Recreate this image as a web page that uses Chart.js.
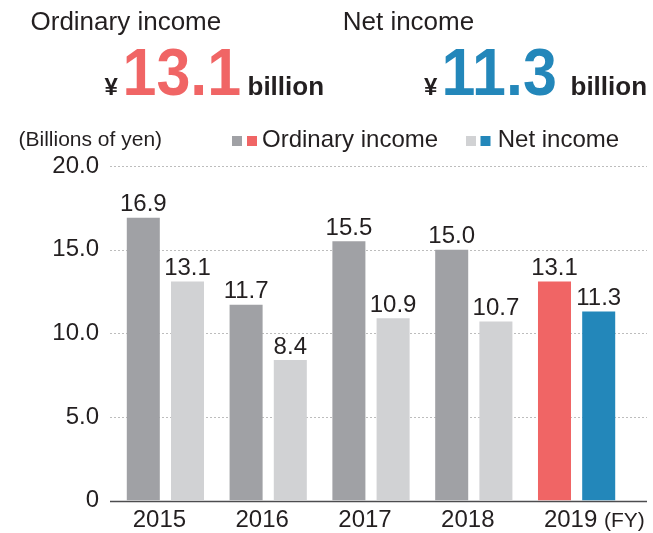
<!DOCTYPE html>
<html>
<head>
<meta charset="utf-8">
<script src="https://cdn.jsdelivr.net/npm/chart.js@4.4.1/dist/chart.umd.min.js"></script>
<style>
  body { margin: 0; background: #fff; }
  #wrap { width: 653px; height: 533px; }
</style>
</head>
<body>
<div id="wrap"><canvas id="incomeChart" width="653" height="533"></canvas></div>
<script>
// values (billions of yen)
const years = ['2015', '2016', '2017', '2018', '2019'];
const ordinaryIncome = [16.9, 11.7, 15.5, 15.0, 13.1];
const netIncome = [13.1, 8.4, 10.9, 10.7, 11.3];
const yTicks = [0, 5, 10, 15, 20];

const GREY = '#a0a1a5', LIGHT = '#d1d2d4', RED = '#f06565', BLUE = '#2387ba', INK = '#231f20';
const FONT = '"Liberation Sans", Arial, Helvetica, sans-serif';

// last year is highlighted
const ordinaryColors = years.map((y, i) => i === years.length - 1 ? RED : GREY);
const netColors = years.map((y, i) => i === years.length - 1 ? BLUE : LIGHT);

function txt(ctx, s, x, y, size, color, bold, sx) {
  ctx.save();
  ctx.font = (bold ? 'bold ' : '') + size + 'px ' + FONT;
  ctx.fillStyle = color;
  ctx.textAlign = 'left';
  ctx.textBaseline = 'alphabetic';
  ctx.translate(x, y);
  ctx.scale(sx || 1, 1);   // big figures are a bit condensed
  ctx.fillText(s, 0, 0);
  ctx.restore();
}

// dotted grid lines + solid zero line, behind the bars
const gridPlugin = {
  id: 'grid',
  beforeDatasetsDraw(chart) {
    const ctx = chart.ctx, y = chart.scales.y;
    ctx.save();
    yTicks.forEach(v => {
      const py = Math.round(y.getPixelForValue(v)) + 0.5;
      ctx.beginPath();
      if (v === 0) {
        ctx.setLineDash([]);
        ctx.strokeStyle = '#4d4d4f';
        ctx.lineWidth = 1.5;
      } else {
        ctx.setLineDash([2, 2]);
        ctx.strokeStyle = '#bdbdbd';
        ctx.lineWidth = 1;
      }
      ctx.moveTo(110, py);
      ctx.lineTo(647, py);
      ctx.stroke();
    });
    ctx.restore();
  }
};

// value labels, header, legend and (FY)
const textPlugin = {
  id: 'texts',
  afterDatasetsDraw(chart) {
    const ctx = chart.ctx;
    ctx.save();
    ctx.font = '24px ' + FONT;
    ctx.fillStyle = INK;
    ctx.textAlign = 'center';
    ctx.textBaseline = 'alphabetic';
    chart.data.datasets.forEach((ds, di) => {
      chart.getDatasetMeta(di).data.forEach((bar, i) => {
        ctx.fillText(ds.data[i].toFixed(1), bar.x, bar.y - 6.5);
      });
    });
    ctx.restore();
  },
  afterDraw(chart) {
    const ctx = chart.ctx;
    const last = years.length - 1;
    // header
    txt(ctx, 'Ordinary income', 30.5, 29.5, 26, INK, false);
    txt(ctx, 'Net income', 342.7, 30, 26, INK, false);
    txt(ctx, '¥', 104.5, 94.5, 24, INK, true);
    txt(ctx, ordinaryIncome[last].toFixed(1), 122.5, 95, 67, RED, true, 0.91);
    txt(ctx, 'billion', 247.5, 94.5, 26, INK, true);
    txt(ctx, '¥', 424, 94.5, 24, INK, true);
    txt(ctx, netIncome[last].toFixed(1), 441.5, 95, 67, BLUE, true, 0.91);
    txt(ctx, 'billion', 570.5, 94.5, 26, INK, true);
    // unit + legend
    txt(ctx, '(Billions of yen)', 18.5, 146, 21, INK, false);
    ctx.save();
    ctx.fillStyle = GREY; ctx.fillRect(232, 136, 10, 10);
    ctx.fillStyle = RED; ctx.fillRect(247, 136, 10, 10);
    ctx.fillStyle = LIGHT; ctx.fillRect(466, 136, 10, 10);
    ctx.fillStyle = BLUE; ctx.fillRect(480.5, 136, 10, 10);
    ctx.restore();
    txt(ctx, 'Ordinary income', 262, 146.7, 24, INK, false);
    txt(ctx, 'Net income', 497.7, 146.7, 24, INK, false);
    // fiscal year marker
    txt(ctx, '(FY)', 604, 526.5, 21, INK, false);
  }
};

const ctx = document.getElementById('incomeChart').getContext('2d');
const incomeChart = new Chart(ctx, {
  type: 'bar',
  data: {
    labels: years,
    datasets: [
      { label: 'Ordinary income', data: ordinaryIncome, backgroundColor: ordinaryColors },
      { label: 'Net income', data: netIncome, backgroundColor: netColors }
    ]
  },
  options: {
    responsive: false,
    animation: false,
    events: [],
    layout: { padding: { top: 166, right: 25, left: 0, bottom: 0 } },
    categoryPercentage: 0.86,
    barPercentage: 0.747,
    plugins: { legend: { display: false }, tooltip: { enabled: false } },
    scales: {
      x: {
        grid: { display: false, drawTicks: false },
        border: { display: false },
        ticks: { color: INK, font: { family: FONT, size: 24 }, padding: 5, labelOffset: -6, maxRotation: 0 },
        afterFit: s => { s.height = 32.5; }
      },
      y: {
        min: 0,
        max: 20,
        grid: { display: false, drawTicks: false },
        border: { display: false },
        ticks: {
          stepSize: 5,
          color: INK,
          font: { family: FONT, size: 24 },
          padding: 15,
          callback: v => v === 0 ? '0' : v.toFixed(1)
        },
        afterFit: s => { s.width = 114; }
      }
    }
  },
  plugins: [gridPlugin, textPlugin]
});
</script>
</body>
</html>
